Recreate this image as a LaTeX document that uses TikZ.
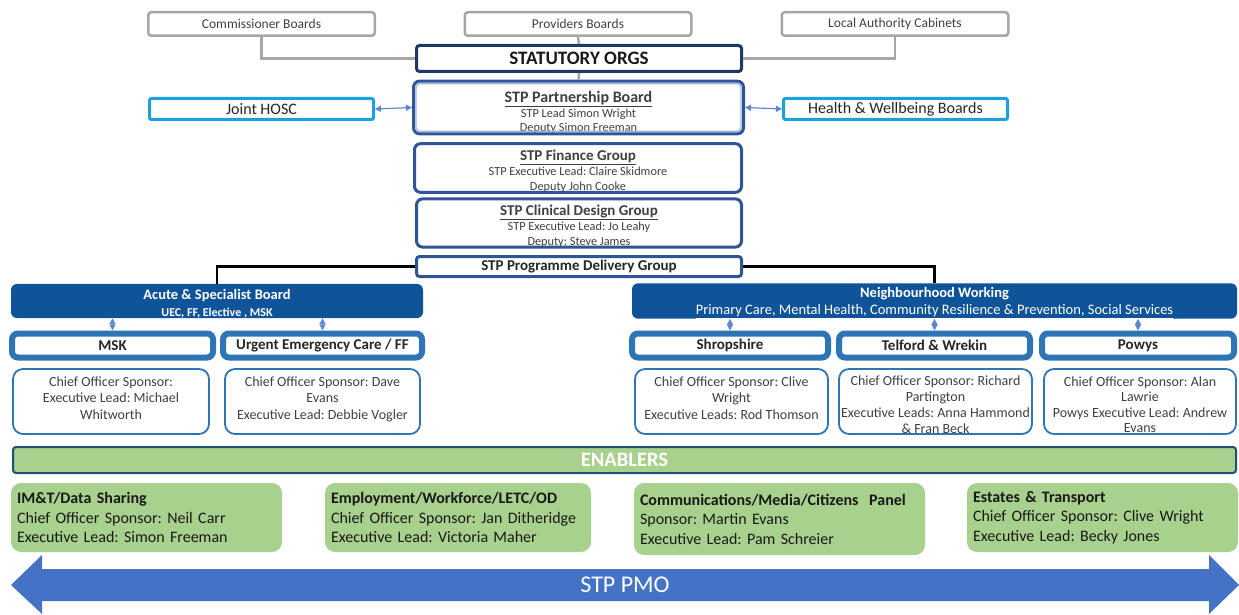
\documentclass[tikz,border=0pt]{standalone}
\usepackage{fontspec}
\setmainfont{Carlito}
\frenchspacing
\usetikzlibrary{arrows.meta}
\definecolor{greyline}{HTML}{A6A6A6}
\definecolor{navy}{HTML}{1F3864}
\definecolor{stpblue}{HTML}{2F5597}
\definecolor{paleblue}{HTML}{9DB5E0}
\definecolor{skyblue}{HTML}{1BA1DE}
\definecolor{boardblue}{HTML}{0F5499}
\definecolor{frameblue}{HTML}{2E75B6}
\definecolor{arrowblue}{HTML}{5B87D3}
\definecolor{enablergreen}{HTML}{A9D18E}
\definecolor{enablerline}{HTML}{1F4E79}
\definecolor{pmoblue}{HTML}{4472C4}
\definecolor{textgrey}{HTML}{404040}
\newcommand{\fs}[2]{\fontsize{#1}{#2}\selectfont}
\newcommand{\lead}[1]{\rule{0pt}{#1pt}}
\newcommand{\tail}[1]{\rule[-#1pt]{0pt}{#1pt}}

\begin{document}
\begin{tikzpicture}[x=1pt,y=-1pt,
    greybox/.style={draw=greyline, line width=2.5pt, rounded corners=3pt, fill=white, inner sep=0pt, text=textgrey, font=\fs{13.5}{15}},
    hoscbox/.style={draw=skyblue, line width=3pt, rounded corners=2pt, fill=white, inner sep=0pt, text=black!85, font=\fs{16}{18}},
    groupbox/.style={draw=stpblue, line width=3pt, rounded corners=6pt, fill=white, inner sep=0pt, align=center, text=textgrey, font=\fs{12.3}{14.8}},
    boardbox/.style={fill=boardblue, rounded corners=6pt, inner sep=0pt, align=center, text=white, font=\fs{14.5}{17}\bfseries},
    framebox/.style={draw=frameblue, line width=6pt, rounded corners=6pt, fill=white, inner sep=0pt, text=black!85, font=\fs{15}{17}\bfseries},
    detailbox/.style={draw=frameblue, line width=1.8pt, rounded corners=10pt, fill=white, inner sep=0pt, align=center, text=textgrey, font=\fs{14}{16.5}},
    enabler/.style={fill=enablergreen, rounded corners=10pt, inner xsep=6pt, inner ysep=0pt, align=left, text=black!90, font=\fs{16}{19.5}},
    greyconn/.style={draw=greyline, line width=2.5pt},
    blackconn/.style={draw=black, line width=2.5pt},
    biarrow/.style={draw=arrowblue, line width=1.2pt, {Triangle[length=6pt,width=6pt]}-{Triangle[length=6pt,width=6pt]}},
]
\useasboundingbox (0,0) rectangle (1239,615);

% statutory tier
\node[greybox, minimum width=226.5, minimum height=23.5] (comm) at (261.5,24) {Commissioner Boards};
\node[greybox, minimum width=226.5, minimum height=23.5] (prov) at (578,24) {Providers Boards};
\node[greybox, minimum width=226.5, minimum height=23.5] (local) at (895,24) {Local Authority Cabinets};
\node[draw=navy, line width=3pt, rounded corners=3pt, fill=white, inner sep=0pt,
      minimum width=325, minimum height=26, font=\fs{19}{21}\bfseries, text=black!90] (stat) at (579,58.5) {STATUTORY ORGS};

\draw[greyconn] (comm.south) |- (stat.west);
\draw[greyconn] (prov.south) -- (stat.north);
\draw[greyconn] (local.south) |- (stat.east);

% partnership board
\node[groupbox, minimum width=330, minimum height=52] (pb) at (578.5,107.5)
  {\lead{21}{\fs{16}{17}\bfseries\underline{STP Partnership Board}}\\STP Lead Simon Wright\\Deputy Simon Freeman};
\draw[paleblue, line width=1.2pt, rounded corners=4pt]
  ([shift={(4,4)}]pb.north west) rectangle ([shift={(-4,-4)}]pb.south east);
\draw[greyconn] (stat.south) -- (pb.north);

\node[hoscbox, minimum width=224, minimum height=21] (hosc) at (261.5,109) {Joint HOSC};
\node[hoscbox, minimum width=224, minimum height=21] (hw) at (895.5,109) {Health \& Wellbeing Boards};
\draw[biarrow] (hosc.east) -- (pb.west);
\draw[biarrow] (pb.east) -- (hw.west);

% groups
\node[groupbox, minimum width=327, minimum height=47] (fin) at (578,168)
  {\lead{17}{\fs{15}{16}\bfseries\underline{STP Finance Group}}\\STP Executive Lead: Claire Skidmore\\Deputy John Cooke};
\node[groupbox, minimum width=325, minimum height=45] (clin) at (579,223)
  {\lead{16.5}{\fs{15}{16}\bfseries\underline{STP Clinical Design Group}}\\STP Executive Lead: Jo Leahy\\Deputy: Steve James};
\node[groupbox, rounded corners=3pt, minimum width=325, minimum height=20, font=\fs{15}{17}\bfseries, text=black!85] (pdg) at (579,266.5)
  {STP Programme Delivery Group};

% boards
\node[boardbox, minimum width=412, minimum height=34] (acute) at (217,301)
  {\lead{15.5}Acute \& Specialist Board\\{\fs{12}{14}UEC, FF, Elective , MSK}};
\node[boardbox, minimum width=605, minimum height=34] (neigh) at (934.5,301)
  {\lead{14}Neighbourhood Working\\{\mdseries\underline{Primary Care, Mental Health, Community Resilience \& Prevention, Social Services}}};
\draw[blackconn] (pdg.west) -| (acute.north);
\draw[blackconn] (pdg.east) -| (neigh.north);

% workstreams
\node[framebox, minimum width=201, minimum height=24] (msk) at (112.5,345.5) {MSK};
\node[framebox, minimum width=199, minimum height=24] (uec) at (322.5,345.5) {Urgent Emergency Care / FF};
\node[framebox, minimum width=196, minimum height=24] (shrop) at (730,345.5) {Shropshire};
\node[framebox, minimum width=191, minimum height=24] (telf) at (934.5,345.5) {Telford \& Wrekin};
\node[framebox, minimum width=192, minimum height=24] (powys) at (1138,345.5) {Powys};

\foreach \n in {msk,uec} \draw[biarrow] (\n.north |- acute.south) -- (\n.north);
\foreach \n in {shrop,telf,powys} \draw[biarrow] (\n.north |- neigh.south) -- (\n.north);

\node[detailbox, minimum width=196, minimum height=65] (mskd) at (111,401.5)
  {\lead{17}Chief Officer Sponsor:\\Executive Lead: Michael\\Whitworth\tail{15}};
\node[detailbox, minimum width=195, minimum height=65] (uecd) at (322.5,401.5)
  {\lead{17}Chief Officer Sponsor: Dave\\Evans\\Executive Lead: Debbie Vogler\tail{15}};
\node[detailbox, minimum width=193, minimum height=65] (shropd) at (731.5,401.5)
  {\lead{17}Chief Officer Sponsor: Clive\\Wright\\Executive Leads: Rod Thomson\tail{15}};
\node[detailbox, minimum width=193, minimum height=65, font=\fs{14}{15.7}] (telfd) at (935.5,401.5)
  {\lead{16}Chief Officer Sponsor: Richard\\Partington\\Executive Leads: Anna Hammond\\\& Fran Beck};
\node[detailbox, minimum width=192, minimum height=65, font=\fs{14}{15.3}] (powysd) at (1140,401.5)
  {\lead{16}Chief Officer Sponsor: Alan\\Lawrie\\Powys Executive Lead: Andrew\\Evans};

% enablers
\node[draw=enablerline, line width=2pt, fill=enablergreen, rounded corners=3pt, inner sep=0pt,
      minimum width=1223, minimum height=26, text=white, font=\fs{20.5}{22}\bfseries] (enab) at (624.5,460) {ENABLERS};

% pmo arrow
\fill[pmoblue] (11,585) -- (42,555) -- (42,569) -- (1209,569) -- (1209,555) -- (1239,585)
  -- (1209,614) -- (1209,601) -- (42,601) -- (42,614) -- cycle;
\node[text=white, font=\fs{24}{26}] (pmo) at (625,585) {STP PMO};

\node[enabler, text width=259, minimum height=69] (imt) at (146.5,517.5)
  {\textbf{IM\&T/Data Sharing}\\Chief Officer Sponsor: Neil Carr\\Executive Lead: Simon Freeman};
\node[enabler, text width=254, minimum height=69] (emp) at (458,517.5)
  {\textbf{Employment/Workforce/LETC/OD}\\Chief Officer Sponsor: Jan Ditheridge\\Executive Lead: Victoria Maher};
\node[enabler, text width=279, minimum height=72] (comms) at (779.5,519)
  {\textbf{Communications/Media/Citizens\ \ Panel}\\Sponsor: Martin Evans\\Executive Lead: Pam Schreier};
\node[enabler, text width=259, minimum height=69] (est) at (1102.5,517.5)
  {\textbf{Estates \& Transport}\\Chief Officer Sponsor: Clive Wright\\Executive Lead: Becky Jones};
\end{tikzpicture}
\end{document}
